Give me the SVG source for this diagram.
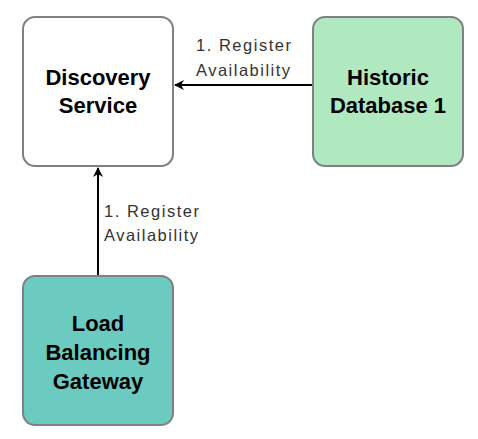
<svg xmlns="http://www.w3.org/2000/svg" width="478" height="439" viewBox="0 0 478 439">
<style>
.box{stroke:#7f7f84;stroke-width:2}
.nt{font-family:"Liberation Sans",Arial,sans-serif;font-weight:bold;font-size:22px;fill:#000;text-anchor:middle}
.lt{font-family:"Liberation Sans",Arial,sans-serif;font-size:16.5px;fill:#333}
.edge{stroke:#000;stroke-width:2;fill:none}
</style>
<defs>
<marker id="arr" viewBox="0 0 10 10" refX="9" refY="5" markerWidth="5" markerHeight="5" orient="auto" markerUnits="strokeWidth">
<path d="M0,0 L10,5 L0,10 L3,5 Z" fill="#000"/>
</marker>
</defs>
<rect width="478" height="439" fill="#fff"/>
<g id="connectors">
<path class="edge" d="M313,85 L175,85" marker-end="url(#arr)"/>
<text class="lt" x="196" y="51" textLength="95" lengthAdjust="spacing">1. Register</text>
<text class="lt" x="196" y="76" textLength="94" lengthAdjust="spacing">Availability</text>
<path class="edge" d="M98,276 L98,168" marker-end="url(#arr)"/>
<text class="lt" x="104" y="217" textLength="95" lengthAdjust="spacing">1. Register</text>
<text class="lt" x="104" y="241" textLength="94" lengthAdjust="spacing">Availability</text>
</g>
<g id="discovery">
<rect class="box" x="23" y="17" width="150" height="149" rx="12" fill="#fff"/>
<text class="nt" x="98" y="85">Discovery</text>
<text class="nt" x="98" y="113">Service</text>
</g>
<g id="historic">
<rect class="box" x="313" y="17" width="150" height="149" rx="12" fill="#b0e8c0"/>
<text class="nt" x="388" y="85">Historic</text>
<text class="nt" x="388" y="113">Database 1</text>
</g>
<g id="gateway">
<rect class="box" x="23" y="276" width="150" height="149" rx="12" fill="#6ccbc0"/>
<text class="nt" x="98" y="331">Load</text>
<text class="nt" x="98" y="360">Balancing</text>
<text class="nt" x="98" y="389">Gateway</text>
</g>
</svg>
